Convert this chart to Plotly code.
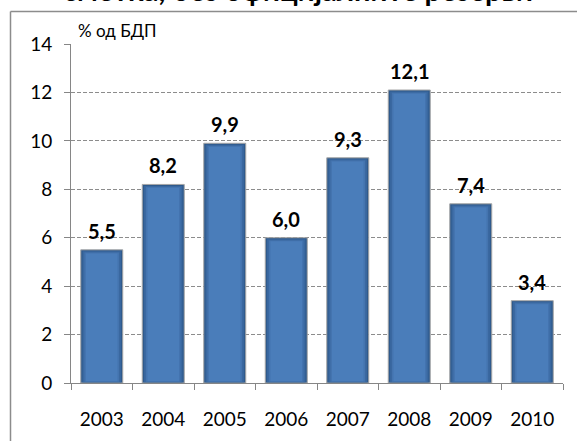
import plotly.graph_objects as go

# Current account, excluding official reserves (% of GDP)
years = ["2003", "2004", "2005", "2006", "2007", "2008", "2009", "2010"]
values = [5.5, 8.2, 9.9, 6.0, 9.3, 12.1, 7.4, 3.4]
labels = ["5,5", "8,2", "9,9", "6,0", "9,3", "12,1", "7,4", "3,4"]
y_ticks = [0, 2, 4, 6, 8, 10, 12, 14]

title_text = "сметка, без официјалните резерви"
unit_text = "% од БДП"

W, H = 577, 441
L, R, T, B = 71, 14, 44, 58
PW, PH = W - L - R, H - T - B


def px_x(p):
    return (p - L) / PW


def px_y(p):
    return (H - B - p) / PH


FONT = "Lato, 'Noto Sans', sans-serif"
fig = go.Figure()

# bars built from nested layers: dark bevel outside, lighter face inside
BAR_W = 0.683
layers = [
    # (width shrink per side, top trim, base lift, colour)
    (0.000, 0.00, 0.00, "#2F5A8C"),
    (0.030, 0.06, 0.03, "#3A68A0"),
    (0.060, 0.11, 0.05, "#4474AF"),
    (0.085, 0.15, 0.07, "#4A7DBA"),
]
for i, (shrink, trim, lift, col) in enumerate(layers):
    w = BAR_W - 2 * shrink
    fig.add_trace(go.Bar(
        x=years,
        y=[v - trim - lift for v in values],
        base=[lift] * len(values),
        width=[w] * len(values),
        marker=dict(color=col,
                    line=dict(color="#A6A6A6" if i == 0 else col,
                              width=1 if i == 0 else 0)),
        hoverinfo="skip",
        showlegend=False,
    ))

# value labels above the bars (category index keeps "2003" from reading as a number)
for idx, (v, lab) in enumerate(zip(values, labels)):
    fig.add_annotation(
        x=idx, y=v, text="<b>%s</b>" % lab, showarrow=False,
        xanchor="center", yanchor="bottom", yshift=5,
        font=dict(family=FONT, size=20, color="#000000"),
    )

# unit label
fig.add_annotation(
    xref="paper", yref="paper", x=px_x(76), y=px_y(30),
    text=unit_text, showarrow=False, xanchor="left", yanchor="middle",
    font=dict(family=FONT, size=17, color="#000000"),
)

# heading, partially above the page edge
fig.add_annotation(
    xref="paper", yref="paper", x=px_x(298), y=px_y(9),
    text="<b>%s</b>" % title_text, showarrow=False,
    xanchor="center", yanchor="bottom",
    font=dict(family=FONT, size=29, color="#000000"),
)

# chart frame
fig.add_shape(type="line", xref="paper", yref="paper",
              x0=px_x(10.5), x1=px_x(600), y0=px_y(11.5), y1=px_y(11.5),
              line=dict(color="#8C8C8C", width=1.5))
fig.add_shape(type="line", xref="paper", yref="paper",
              x0=px_x(10.5), x1=px_x(10.5), y0=px_y(11.5), y1=px_y(500),
              line=dict(color="#8C8C8C", width=1.5))

fig.update_layout(
    width=W, height=H,
    margin=dict(l=L, r=R, t=T, b=B),
    paper_bgcolor="#FFFFFF", plot_bgcolor="#FFFFFF",
    barmode="overlay",
    font=dict(family=FONT, size=19, color="#000000"),
    xaxis=dict(
        type="category", categoryorder="array", categoryarray=years,
        showline=True, linecolor="#868686", linewidth=1,
        ticks="outside", ticklen=6, tickcolor="#868686",
        tickson="boundaries", showgrid=False,
        ticklabelstandoff=19, range=[-0.5, 7.5],
    ),
    yaxis=dict(
        range=[0, 14], tickvals=y_ticks,
        showline=True, linecolor="#868686", linewidth=1,
        ticks="outside", ticklen=6, tickcolor="#868686",
        showgrid=True, gridcolor="#8C8C8C", gridwidth=1, griddash="4px,2px",
        zeroline=False, ticklabelstandoff=8,
    ),
)

fig.write_html("out.html")
